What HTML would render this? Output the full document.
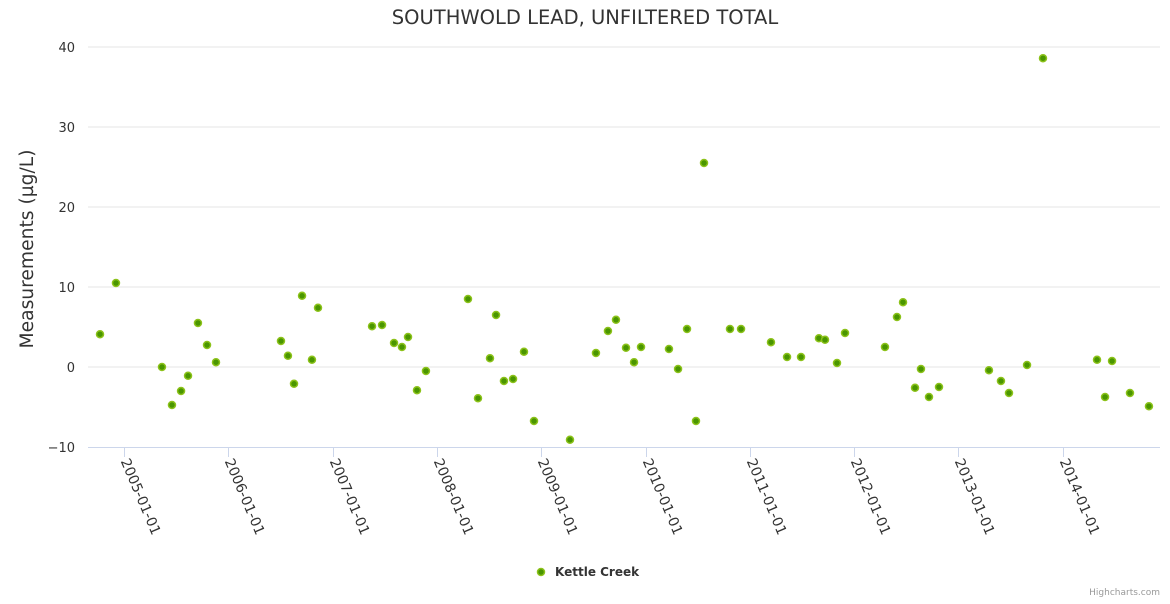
<!DOCTYPE html>
<html><head><meta charset="utf-8"><style>
body{margin:0;background:#fff;font-family:"DejaVu Sans",sans-serif}
svg text{font-family:"DejaVu Sans",sans-serif}
</style></head><body>
<svg id="c" width="1170" height="600">
<text x="585" y="24" text-anchor="middle" font-size="19.5" fill="#333">SOUTHWOLD LEAD, UNFILTERED TOTAL</text>
<text transform="translate(33,249) rotate(-90)" text-anchor="middle" font-size="18.7" fill="#333">Measurements (µg/L)</text>
<g id="grid"></g><g id="xaxis"></g><g id="pts"></g>
<g>
<circle cx="541" cy="572" r="3.5" fill="#4a9600" stroke="#8cc21a" stroke-width="1.5"/>
<text x="555" y="576" font-size="12" font-weight="bold" fill="#333">Kettle Creek</text></g>
<text x="1160" y="595" text-anchor="end" font-size="9" fill="#999">Highcharts.com</text>
</svg>
<script>
const yTicks=[-10,0,10,20,30,40];
const xTickYears=[2005,2006,2007,2008,2009,2010,2011,2012,2013,2014];
const dates=[100,116,162,172,181,188,198,207,216,281,288,294,302,312,318,372,382,394,402,408,417,426,468,478,490,496,504,513,524,534,570,596,608,616,626,634,641,669,678,687,696,704,730,741,771,787,801,819,825,837,845,885,897,903,915,921,929,939,989,1001,1009,1027,1043,1097,1105,1112,1130,1149].map(p=>+(2005+(p-124)/104.3).toFixed(3));
const values=[4.1,10.5,0,-4.75,-3,-1.1,5.5,2.75,0.6,3.25,1.4,-2.1,8.9,0.9,7.4,5.1,5.25,3,2.5,3.75,-2.9,-0.5,8.5,-3.9,1.1,6.5,-1.75,-1.5,1.9,-6.75,-9.1,1.75,4.5,5.9,2.4,0.6,2.5,2.25,-0.25,4.75,-6.75,25.5,4.75,4.75,3.1,1.25,1.25,3.6,3.4,0.5,4.25,2.5,6.25,8.1,-2.6,-0.25,-3.75,-2.5,-0.4,-1.75,-3.25,0.25,38.6,0.9,-3.75,0.75,-3.25,-4.9];
const NS='http://www.w3.org/2000/svg';
const y=v=>367-v*8, x=t=>124+(t-2005)*104.3;
function mk(tag,at,par){const e=document.createElementNS(NS,tag);for(const k in at)e.setAttribute(k,at[k]);document.getElementById(par).appendChild(e);return e;}
yTicks.forEach(v=>{
 if(v!==-10){const l=mk('line',{x1:88,x2:1160,y1:y(v),y2:y(v),stroke:'#e6e6e6'},'grid');
 
 }
 const t=mk('text',{x:75,y:y(v)+5,'text-anchor':'end','font-size':13,fill:'#333'},'grid');t.textContent=String(v).replace('-','\u2212');
 
 
});
const ax=mk('line',{x1:88,x2:1160,y1:447.5,y2:447.5,stroke:'#ccd6eb'},'xaxis');


xTickYears.forEach(yr=>{
 const px=Math.round(x(yr))+0.5;
 const tk=mk('line',{x1:px,x2:px,y1:447,y2:457,stroke:'#ccd6eb'},'xaxis');
 
 
 const t=mk('text',{transform:`translate(${px-4},461) rotate(67)`,'font-size':14,fill:'#333'},'xaxis');
 t.textContent=yr+'-01-01';
 
 
});
dates.forEach((d,i)=>{
 const c=mk('circle',{cx:x(d),cy:y(values[i]),r:3.5,fill:'#4a9600',stroke:'#8cc21a','stroke-width':1.5},'pts');
 
 
});
</script>
</body></html>
